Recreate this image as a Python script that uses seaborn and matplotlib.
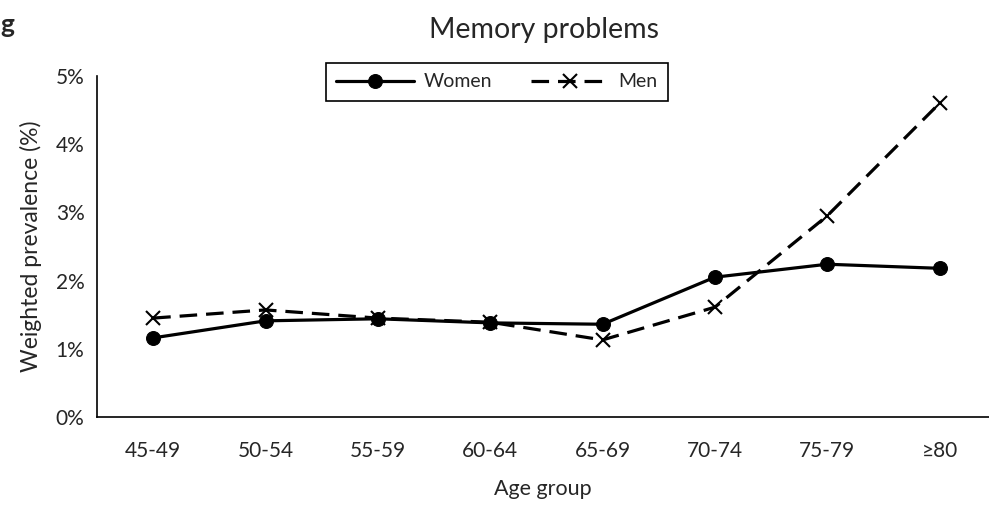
import pandas as pd
import seaborn as sns
import matplotlib.pyplot as plt

# Data
age_groups = ["45-49", "50-54", "55-59", "60-64", "65-69", "70-74", "75-79", "≥80"]
women = [1.16, 1.41, 1.44, 1.38, 1.36, 2.05, 2.24, 2.18]
men = [1.45, 1.57, 1.45, 1.39, 1.13, 1.61, 2.95, 4.60]
y_ticks = [0, 1, 2, 3, 4, 5]

df = pd.DataFrame({
    "Age group": age_groups * 2,
    "Prevalence": women + men,
    "Sex": ["Women"] * len(age_groups) + ["Men"] * len(age_groups),
})

sns.set_style("white")
plt.rcParams["font.family"] = ["Lato", "DejaVu Sans"]

fig = plt.figure(figsize=(9.89, 5.08), dpi=100)
ax = fig.add_axes([97 / 989, 91 / 508, 892 / 989, 341 / 508])

# filled and line-art markers can't share one style mapping, so draw per series
sns.lineplot(data=df[df["Sex"] == "Women"], x="Age group", y="Prevalence", ax=ax,
             color="black", linewidth=2.3, sort=False, marker="o",
             markersize=10, markeredgecolor="black", label="Women")
sns.lineplot(data=df[df["Sex"] == "Men"], x="Age group", y="Prevalence", ax=ax,
             color="black", linewidth=2.3, sort=False, marker="x",
             markersize=9.5, markeredgewidth=1.5, markeredgecolor="black",
             linestyle=(0, (5.5, 2.8)), label="Men")

ax.set_xlim(-0.5, 7.44)
ax.set_ylim(0, 5)
ax.set_yticks(y_ticks)
ax.set_yticklabels([f"{t}%" for t in y_ticks])
ax.tick_params(axis="x", length=0, labelsize=15, pad=17)
ax.tick_params(axis="y", length=0, labelsize=15, pad=9)
ax.set_xlabel("Age group", fontsize=15.5, labelpad=13)
ax.set_ylabel("Weighted prevalence (%)", fontsize=16.5, labelpad=10)
sns.despine(ax=ax)
for s in ["left", "bottom"]:
    ax.spines[s].set_color("black")
    ax.spines[s].set_linewidth(1.2)

fig.text(0.55, 0.94, "Memory problems", ha="center", va="center", fontsize=20.5)
fig.text(0.0, 0.95, "g", ha="left", va="center", fontsize=19, fontweight="bold")

leg = ax.legend(loc="center", bbox_to_anchor=(497 / 989, 1 - 82 / 508),
                bbox_transform=fig.transFigure, ncol=2, fontsize=14,
                handlelength=4.0, columnspacing=2.0, handletextpad=0.5,
                frameon=True, fancybox=False, borderpad=0.55, borderaxespad=0)
leg.get_frame().set_edgecolor("black")
leg.get_frame().set_linewidth(1.2)
leg.get_frame().set_alpha(1)

fig.savefig("out.png", dpi=100)
